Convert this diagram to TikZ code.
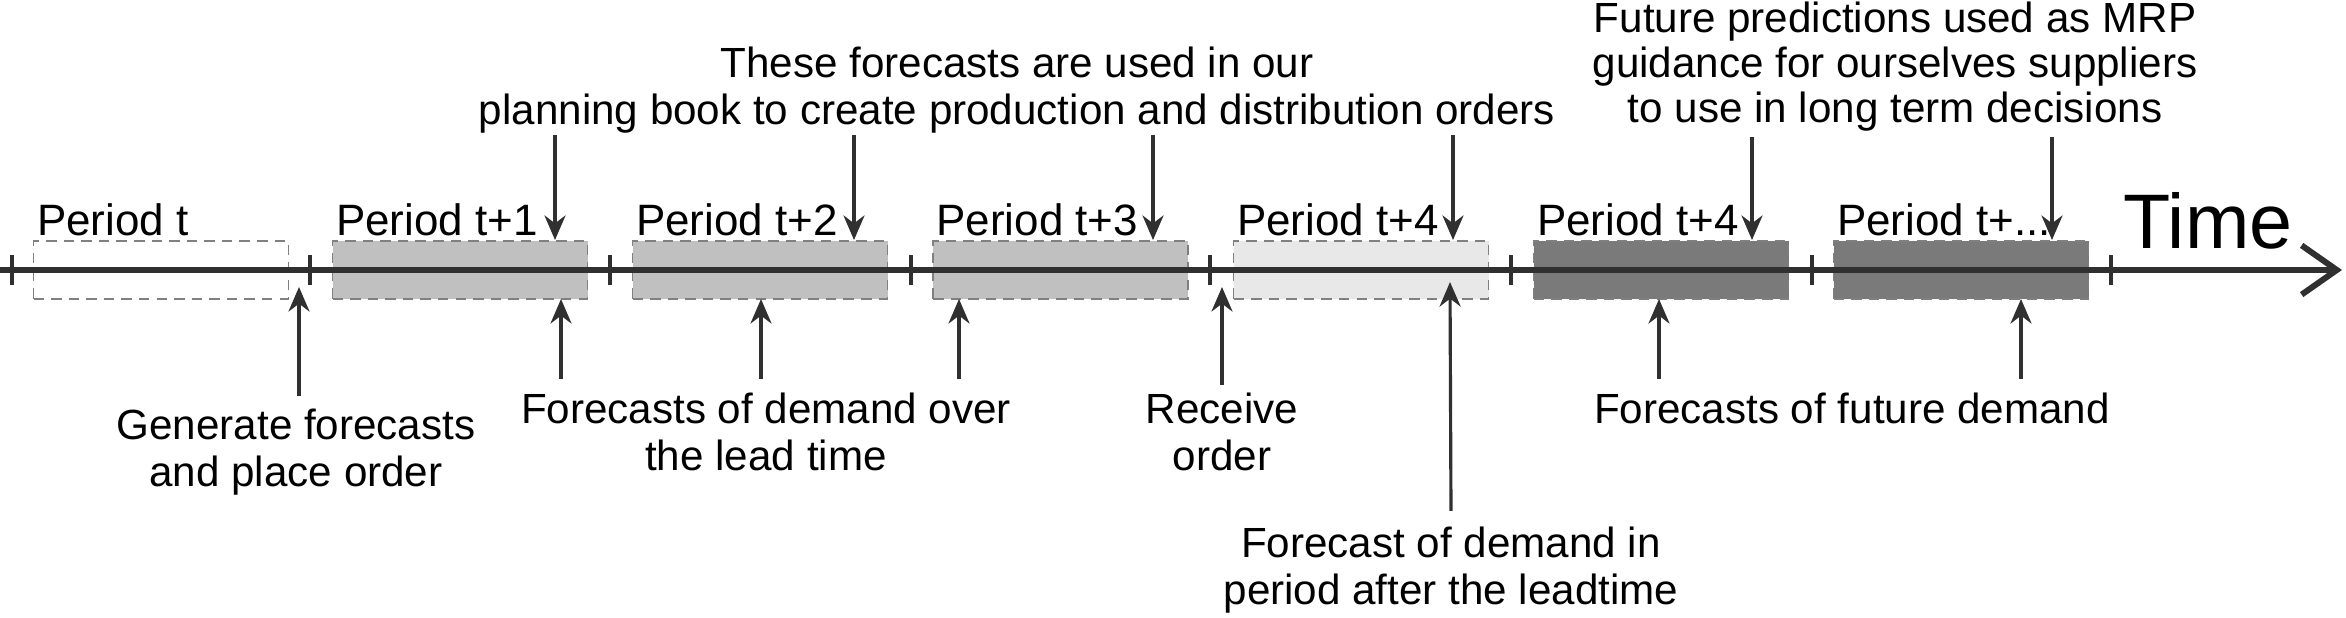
\documentclass[tikz,border=0pt]{standalone}
\usepackage{fontspec}
\setmainfont{Liberation Sans}
\usetikzlibrary{arrows.meta}
\definecolor{axisgray}{HTML}{303030}
\definecolor{midgray}{HTML}{C0C0C0}
\definecolor{lightgray}{HTML}{E8E8E8}
\definecolor{darkgray}{HTML}{7A7A7A}
\tikzset{
	period/.style={draw=gray, densely dashed, thin, minimum width=2.55cm, minimum height=0.58cm, inner sep=0pt},
	plabel/.style={anchor=south west, inner sep=1pt, font=\fontsize{12.5}{14}\selectfont},
	note/.style={align=center, font=\fontsize{12}{13.2}\selectfont, inner sep=1pt},
	arr/.style={-{Stealth[length=7pt,width=6pt]}, line width=0.9pt, axisgray},
}
\begin{document}
\begin{tikzpicture}[x=1cm,y=1cm]
	\useasboundingbox (0, 0) rectangle (23.46, 6.17);
	% periods
	\node[period, fill=white] (p0) at (1.61, 3.47) {};
	\node[period, fill=midgray] (p1) at (4.60, 3.47) {};
	\node[period, fill=midgray] (p2) at (7.60, 3.47) {};
	\node[period, fill=midgray] (p3) at (10.605, 3.47) {};
	\node[period, fill=lightgray] (p4) at (13.61, 3.47) {};
	\node[period, fill=darkgray] (p5) at (16.61, 3.47) {};
	\node[period, fill=darkgray] (p6) at (19.61, 3.47) {};
	\node[plabel] at (p0.north west) {Period t};
	\node[plabel] at (p1.north west) {Period t+1};
	\node[plabel] at (p2.north west) {Period t+2};
	\node[plabel] at (p3.north west) {Period t+3};
	\node[plabel] at (p4.north west) {Period t+4};
	\node[plabel] at (p5.north west) {Period t+4};
	\node[plabel] at (p6.north west) {Period t+...};
	% axis
	\coordinate (start) at (0, 3.47);
	\coordinate (stop) at (23.42, 3.47);
	\draw[line width=1.7pt, axisgray, -{Straight Barb[length=10pt,width=14pt,line width=1.7pt]}] (start) -- (stop);
	\foreach \x in {0.12, 3.10, 6.10, 9.11, 12.10, 15.11, 18.12, 21.11}{
		\draw[line width=0.9pt, axisgray] (\x, 3.32) -- (\x, 3.62);
	}
	\node[font=\fontsize{22}{24}\selectfont, anchor=south] (time) at (22.08, 3.55) {Time};
	% texts
	\node[note] (gen) at (2.96, 1.65) {Generate forecasts\\and place order};
	\node[note] (lead) at (7.66, 1.85) {Forecasts of demand over\\the lead time};
	\node[note] (recv) at (12.22, 1.85) {Receive\\order};
	\node[note] (after) at (14.51, 0.47) {Forecast of demand in\\period after the leadtime};
	\node[note] (future) at (18.52, 2.09) {Forecasts of future demand};
	\node[note] (plan) at (10.17, 5.27) {These forecasts are used in our\\planning book to create production and distribution orders};
	\node[note, font=\fontsize{12}{12.8}\selectfont] (mrp) at (18.95, 5.50) {Future predictions used as MRP\\guidance for ourselves suppliers\\to use in long term decisions};
	% arrows from below
	\coordinate (g) at (2.99, 2.21);
	\draw[arr] (g) -- (2.99, 3.30);
	\draw[arr] (5.61, 2.38) -- (5.61, 3.18);
	\draw[arr] (7.61, 2.38) -- (7.61, 3.18);
	\draw[arr] (9.59, 2.38) -- (9.59, 3.18);
	\draw[arr] (12.22, 2.32) -- (12.22, 3.30);
	\draw[arr] (after.north) ++(0, 0.12) -- (14.50, 3.35);
	\draw[arr] (16.59, 2.38) -- (16.59, 3.18);
	\draw[arr] (20.21, 2.38) -- (20.21, 3.18);
	% arrows from above
	\foreach \x in {5.55, 8.54, 11.53, 14.53}{
		\draw[arr] (\x, 4.82) -- (\x, 3.77);
	}
	\foreach \x in {17.52, 20.52}{
		\draw[arr] (\x, 4.80) -- (\x, 3.77);
	}
\end{tikzpicture}
\end{document}
